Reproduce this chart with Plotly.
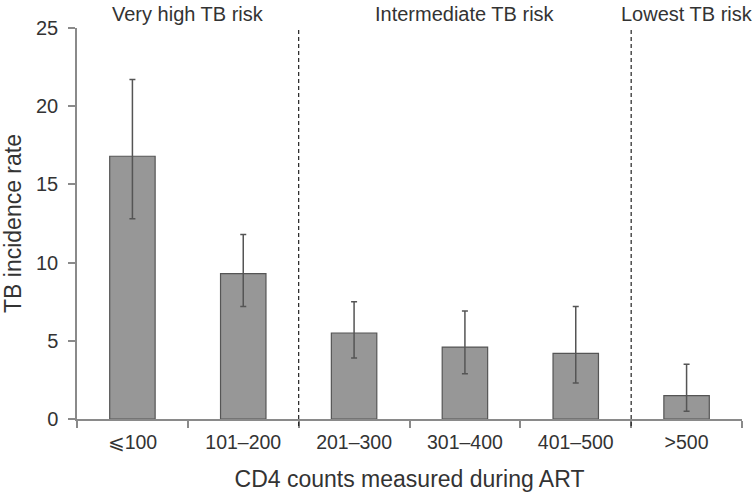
import plotly.graph_objects as go

categories = ["⩽100", "101–200", "201–300", "301–400", "401–500", ">500"]
rates = [16.8, 9.3, 5.5, 4.6, 4.2, 1.5]
ci_upper = [21.7, 11.8, 7.5, 6.9, 7.2, 3.5]
ci_lower = [12.8, 7.2, 3.9, 2.9, 2.3, 0.5]
risk_groups = ["Very high TB risk", "Intermediate TB risk", "Lowest TB risk"]
risk_group_centers = [0.5, 3.0, 5.0]
risk_boundaries = [1.5, 4.5]

err_plus = [u - r for u, r in zip(ci_upper, rates)]
err_minus = [r - l for r, l in zip(rates, ci_lower)]

FONT = "Liberation Sans, Arial, sans-serif"
TXT = "#333333"

fig = go.Figure()
fig.add_trace(go.Bar(
    x=list(range(len(categories))),
    y=rates,
    width=0.41,
    marker=dict(color="#979797", line=dict(color="#555555", width=1.2)),
    error_y=dict(type="data", symmetric=False, array=err_plus, arrayminus=err_minus,
                 color="#555555", thickness=1.5, width=3),
    showlegend=False,
))

shapes = []
for b in risk_boundaries:
    shapes.append(dict(type="line", xref="x", yref="paper", x0=b, x1=b, y0=-0.018, y1=1.0,
                       line=dict(color="#222222", width=1.2, dash="4px,3px")))

annotations = []
for name, c in zip(risk_groups, risk_group_centers):
    annotations.append(dict(text=name, x=c, xref="x", y=1.035, yref="paper",
                            showarrow=False, xanchor="center", yanchor="middle",
                            font=dict(family=FONT, size=20, color=TXT)))

fig.update_layout(
    width=755, height=492,
    margin=dict(l=77, r=13, t=28, b=73, autoexpand=False),
    plot_bgcolor="white", paper_bgcolor="white",
    shapes=shapes, annotations=annotations,
    font=dict(family=FONT, color=TXT),
)
fig.update_xaxes(
    range=[-0.5, 5.5], automargin=False,
    tickmode="array", tickvals=list(range(len(categories))), ticktext=categories,
    showline=True, linecolor="#8a8a8a", linewidth=1.5,
    ticks="", showgrid=False, zeroline=False, ticklabelstandoff=5,
    tickfont=dict(family=FONT, size=19.5, color=TXT),
    title=dict(text="CD4 counts measured during ART", font=dict(family=FONT, size=23, color=TXT), standoff=20),
    minor=dict(tickmode="array", tickvals=[-0.5, 0.5, 1.5, 2.5, 3.5, 4.5, 5.5], ticks="outside",
               ticklen=7, tickcolor="#8a8a8a", tickwidth=1.5),
)
fig.update_yaxes(
    range=[0, 25], tickvals=[0, 5, 10, 15, 20, 25], automargin=False,
    showline=True, linecolor="#8a8a8a", linewidth=1.5,
    ticks="outside", ticklen=7, tickcolor="#8a8a8a", tickwidth=1.5,
    showgrid=False, zeroline=False, ticklabelstandoff=6,
    tickfont=dict(family=FONT, size=20, color=TXT),
    title=dict(text="TB incidence rate", font=dict(family=FONT, size=23, color=TXT), standoff=24),
)

fig.write_html("out.html", config={"displayModeBar": False},
               post_script="document.body.style.margin='0';")
